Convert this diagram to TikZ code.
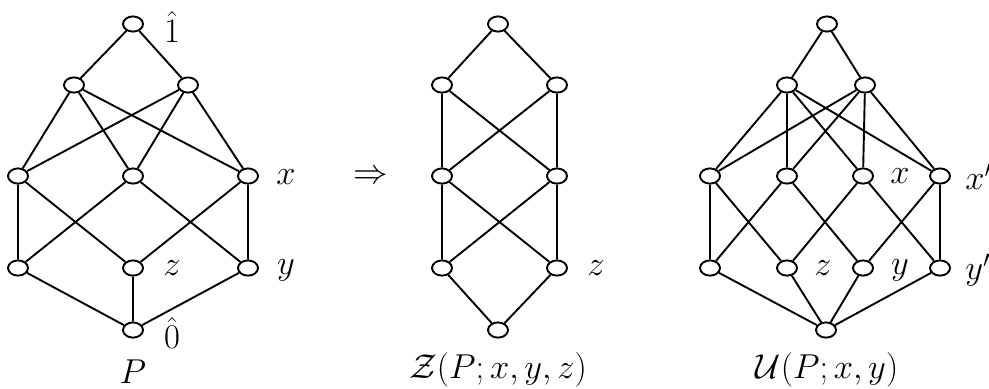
\documentclass[tikz,border=0pt]{standalone}
\usetikzlibrary{shapes.geometric}
\begin{document}
\begin{tikzpicture}[x=0.5pt,y=-0.5pt,
  pt/.style={draw,ellipse,minimum width=10pt,minimum height=7.6pt,inner sep=0pt,line width=0.95pt,fill=white},
  lab/.style={inner sep=0pt,font=\fontsize{17}{20}\selectfont},
  edge/.style={line width=0.95pt}]
\useasboundingbox (0,0) rectangle (989,388);
% ---- P ----
\node[pt] (pT) at (133,24) {};
\node[pt] (pA) at (74,85) {};
\node[pt] (pB) at (188,85) {};
\node[pt] (p1) at (18,176) {};
\node[pt] (p2) at (133,176) {};
\node[pt] (p3) at (248,176) {};
\node[pt] (q1) at (18,268) {};
\node[pt] (q2) at (133,268) {};
\node[pt] (q3) at (248,268) {};
\node[pt] (pO) at (133,330) {};
\draw[edge] (pT)--(pA) (pT)--(pB)
  (pA)--(p1) (pA)--(p2) (pA)--(p3) (pB)--(p1) (pB)--(p2) (pB)--(p3)
  (p1)--(q1) (p1)--(q2) (p2)--(q1) (p2)--(q3) (p3)--(q2) (p3)--(q3)
  (q1)--(pO) (q2)--(pO) (q3)--(pO);
\node[lab] (l1) at (172,27) {$\hat{1}$};
\node[lab] (lx) at (286,177) {$x$};
\node[lab] (lz) at (172,268) {$z$};
\node[lab] (ly) at (286,270) {$y$};
\node[lab] (l0) at (172,333) {$\hat{0}$};
\node[lab] (lP) at (133,372) {$P$};
% ---- arrow ----
\node[lab] (imp) at (371,177) {$\Rightarrow$};
% ---- Z ----
\node[pt] (zT) at (498,24) {};
\node[pt] (zA) at (442,85) {};
\node[pt] (zB) at (557,85) {};
\node[pt] (z1) at (442,176) {};
\node[pt] (z2) at (557,176) {};
\node[pt] (w1) at (442,268) {};
\node[pt] (w2) at (557,268) {};
\node[pt] (zO) at (498,330) {};
\draw[edge] (zT)--(zA) (zT)--(zB)
  (zA)--(z1) (zA)--(z2) (zB)--(z1) (zB)--(z2)
  (z1)--(w1) (z1)--(w2) (z2)--(w1) (z2)--(w2)
  (w1)--(zO) (w2)--(zO);
\node[lab] (zz) at (596,268) {$z$};
\node[lab] (lZ) at (498,370) {$\mathcal{Z}(P;x,y,z)$};
% ---- U ----
\node[pt] (uT) at (827,24) {};
\node[pt] (uA) at (787,85) {};
\node[pt] (uB) at (865,85) {};
\node[pt] (u1) at (710,176) {};
\node[pt] (u2) at (787,176) {};
\node[pt] (u3) at (863,176) {};
\node[pt] (u4) at (940,176) {};
\node[pt] (v1) at (710,268) {};
\node[pt] (v2) at (787,268) {};
\node[pt] (v3) at (863,268) {};
\node[pt] (v4) at (940,268) {};
\node[pt] (uO) at (826,330) {};
\draw[edge] (uT)--(uA) (uT)--(uB)
  (uA)--(u1) (uA)--(u2) (uA)--(u3) (uA)--(u4)
  (uB)--(u1) (uB)--(u2) (uB)--(u3) (uB)--(u4)
  (u1)--(v1) (u1)--(v2) (u2)--(v1) (u2)--(v3)
  (u3)--(v2) (u3)--(v4) (u4)--(v3) (u4)--(v4)
  (v1)--(uO) (v2)--(uO) (v3)--(uO) (v4)--(uO);
\node[lab] (ux) at (900,176) {$x$};
\node[lab,anchor=west] (uxp) at (965,177) {$x'$};
\node[lab] (uz) at (823,268) {$z$};
\node[lab] (uy) at (900,270) {$y$};
\node[lab,anchor=west] (uyp) at (965,270) {$y'$};
\node[lab] (lU) at (827,370) {$\mathcal{U}(P;x,y)$};
\end{tikzpicture}
\end{document}
